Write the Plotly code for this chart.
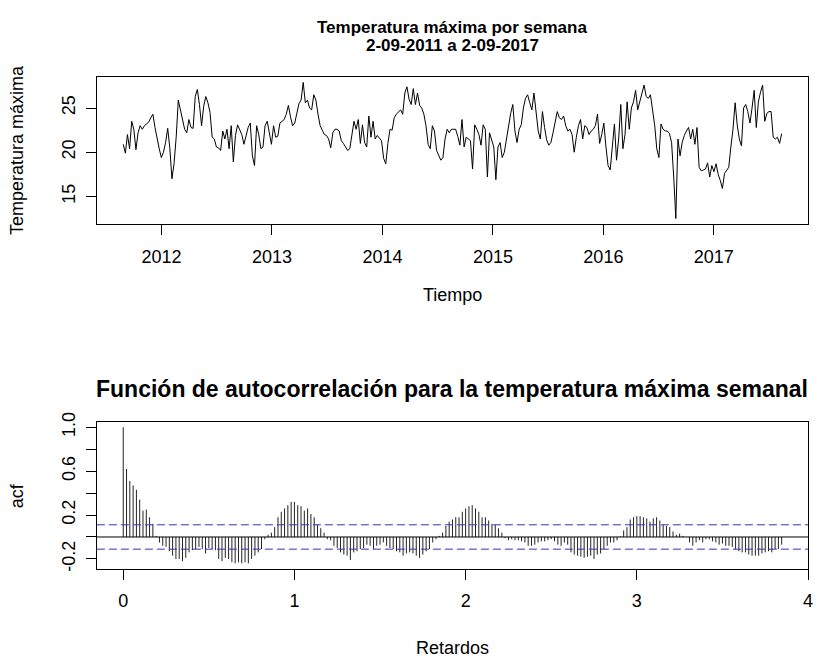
import numpy as np
import plotly.graph_objects as go

# ---------------- data ----------------
start_year = 2011 + 34 / 52          # first week of September 2011
freq = 365.25 / 7                    # weeks per year

temps = [
    20.9, 19.9, 22.0, 20.4, 23.5, 22.6, 20.3, 22.2, 23.0, 22.6,
    23.0, 23.2, 23.4, 23.9, 24.3, 22.8, 21.5, 20.4, 19.4, 20.0,
    21.1, 22.7, 20.5, 17.0, 18.7, 21.7, 25.9, 24.8, 23.5, 22.6,
    22.2, 23.7, 22.8, 22.7, 26.3, 27.1, 25.4, 23.0, 25.2, 26.3,
    25.6, 24.5, 21.7, 21.5, 20.6, 20.5, 20.2, 22.4, 21.5, 22.6,
    20.4, 23.0, 18.9, 21.9, 23.1, 22.6, 22.0, 20.9, 21.7, 22.8,
    23.3, 19.6, 18.5, 23.0, 22.0, 20.4, 20.6, 23.0, 23.5,
    22.0, 20.9, 23.0, 21.7, 21.8, 23.3, 23.5, 23.7, 24.3, 25.3,
    24.0, 23.0, 23.3, 24.6, 25.5, 25.9, 27.9, 25.6, 25.9, 25.0,
    24.8, 26.5, 25.9, 24.3, 23.0, 22.5, 22.0, 21.9, 21.5, 20.5,
    22.2, 22.6, 22.6, 22.4, 21.3, 21.0, 20.6, 20.2, 20.4, 22.0,
    23.5, 22.6, 23.7, 21.0, 23.1, 21.1, 20.6, 24.1, 21.7, 23.5,
    21.5, 21.9, 21.6, 21.3, 19.3, 18.7, 21.0, 22.6, 22.5, 23.9,
    24.3, 24.6, 24.8, 24.3, 26.7, 27.4, 26.0, 25.4, 27.2, 25.4,
    26.7, 25.3, 25.0, 24.3, 23.0, 20.9, 20.4, 23.0, 22.4, 20.2, 19.7, 19.1,
    19.4, 21.5, 22.6, 22.2, 22.6, 22.6, 22.6, 21.8, 20.8, 23.7,
    20.6, 21.7, 21.5, 21.3, 18.1, 23.1, 22.6, 22.0, 20.8, 23.1,
    22.6, 17.2, 22.2, 21.5, 20.6, 16.9, 20.6, 21.1, 19.4, 20.0,
    21.5, 22.6, 24.4, 25.4, 22.4, 21.1, 22.6, 23.1, 25.0, 26.1,
    26.5, 25.6, 24.8, 26.7, 24.6, 22.4, 21.5, 24.6, 22.8, 21.4,
    20.8, 21.1, 22.2, 23.5, 24.6, 23.9, 23.7, 24.1, 23.0, 22.4,
    22.6, 22.0, 20.0, 21.7, 23.0, 23.7, 21.5, 23.0, 22.8, 22.0,
    22.4, 22.6, 23.0, 24.3, 21.0, 22.0, 23.3, 20.6, 18.5, 18.0,
    20.9, 23.2, 19.1, 21.5, 25.4, 20.4, 22.0, 25.7, 22.6, 25.0,
    25.7, 27.0, 24.8, 25.7, 26.7, 27.6, 26.3, 26.1, 26.5, 24.8,
    23.1, 20.4, 19.4, 23.2, 22.6, 22.4, 22.4, 22.1, 21.1, 17.2,
    12.5, 21.5, 19.6, 21.1, 21.9, 22.4, 22.8, 21.5, 22.6, 20.9,
    22.8, 18.3, 17.9, 18.0, 18.1, 18.8, 17.2, 18.5, 17.8, 18.7,
    17.5, 16.8, 15.9, 17.6, 17.9, 18.3, 20.6, 22.6, 25.6, 23.1,
    21.5, 20.7, 25.0, 25.4, 24.6, 23.3, 25.0, 27.0, 22.8, 25.7,
    26.8, 27.6, 23.5, 24.4, 24.6, 24.6, 21.7, 21.5, 21.7, 21.0,
    22.1,
]

acf_vals = [
    1.0, 0.62, 0.51, 0.47, 0.43, 0.34, 0.24, 0.25, 0.18, 0.12, 0.01,
    -0.05, -0.08, -0.09, -0.13, -0.17, -0.20, -0.20, -0.22, -0.19, -0.14,
    -0.12, -0.11, -0.09, -0.11, -0.15, -0.10, -0.11, -0.12, -0.20, -0.22,
    -0.19, -0.20, -0.23, -0.24, -0.23, -0.24, -0.23, -0.24, -0.20, -0.17,
    -0.14, -0.11, -0.02, 0.02, 0.04, 0.09, 0.18, 0.23, 0.26, 0.29,
    0.32, 0.32, 0.29, 0.28, 0.24, 0.26, 0.21, 0.18, 0.11, 0.08,
    0.04, -0.02, -0.03, -0.08, -0.10, -0.14, -0.16, -0.17, -0.21, -0.14,
    -0.13, -0.11, -0.10, -0.07, -0.08, -0.11, -0.08, -0.07, -0.05, -0.08,
    -0.10, -0.11, -0.13, -0.14, -0.17, -0.15, -0.14, -0.15, -0.17, -0.19,
    -0.16, -0.13, -0.11, -0.05, -0.02, 0.01, 0.04, 0.10, 0.14, 0.16,
    0.18, 0.18, 0.23, 0.26, 0.28, 0.29, 0.26, 0.23, 0.18, 0.18,
    0.15, 0.12, 0.11, 0.08, 0.04, -0.01, -0.03, -0.02, -0.03, -0.03,
    -0.04, -0.05, -0.08, -0.08, -0.07, -0.05, -0.04, -0.04, -0.03, -0.02,
    -0.04, -0.07, -0.08, -0.05, -0.07, -0.14, -0.16, -0.17, -0.18, -0.19,
    -0.18, -0.17, -0.20, -0.16, -0.15, -0.11, -0.08, -0.05, -0.05, -0.03,
    0.005, 0.06, 0.09, 0.16, 0.18, 0.19, 0.19, 0.18, 0.17, 0.14,
    0.17, 0.18, 0.15, 0.11, 0.10, 0.09, 0.05, 0.02, 0.03, 0.01,
    0.00, -0.05, -0.08, -0.05, -0.03, -0.05, -0.02, -0.02, -0.04, -0.05,
    -0.07, -0.06, -0.08, -0.08, -0.09, -0.11, -0.13, -0.14, -0.14, -0.16,
    -0.17, -0.17, -0.17, -0.15, -0.14, -0.13, -0.14, -0.11, -0.11, -0.07,
]

year_ticks = [2012, 2013, 2014, 2015, 2016, 2017]
temp_ticks = [15, 20, 25]
lag_ticks = [0, 1, 2, 3, 4]
acf_ticks = [-0.2, 0.0, 0.2, 0.4, 0.6, 0.8, 1.0]
acf_ticktext = ["-0.2", "", "0.2", "", "0.6", "", "1.0"]

# ---------------- derived ----------------
n = len(temps)
t = [start_year + i / freq for i in range(n)]
lags = [k / 52 for k in range(len(acf_vals))]
ci = 1.96 / np.sqrt(n)


def r_range(lo, hi):
    pad = 0.04 * (hi - lo)
    return [lo - pad, hi + pad + 1e-6]


x1_range = r_range(min(t), max(t))
y1_range = r_range(min(temps), max(temps))
x2_range = r_range(0, max(lags))
y2_range = r_range(min(min(acf_vals), -ci), max(max(acf_vals), ci))

bx, by = [], []
for lg, v in zip(lags, acf_vals):
    bx += [lg, lg, None]
    by += [0, v, None]

W, H = 817, 661
FONT = "Liberation Sans, Arial, Helvetica, sans-serif"


def px(x):
    return x / W


def py(y):
    return 1 - y / H


fig = go.Figure()
fig.add_trace(go.Scatter(x=t, y=temps, mode="lines",
                         line=dict(color="black", width=1),
                         xaxis="x", yaxis="y", hoverinfo="x+y"))
fig.add_trace(go.Scatter(x=bx, y=by, mode="lines",
                         line=dict(color="#222222", width=1),
                         xaxis="x2", yaxis="y2", hoverinfo="skip"))

axis_common = dict(showline=True, linecolor="black", linewidth=1, mirror=True,
                   ticks="outside", ticklen=10, tickcolor="black", tickwidth=1,
                   showgrid=False, zeroline=False, ticklabeloverflow="allow",
                   tickfont=dict(family=FONT, size=18, color="black"))

L, R = 97.5, 813
fig.update_layout(
    width=W, height=H, margin=dict(l=0, r=0, t=0, b=0),
    paper_bgcolor="white", plot_bgcolor="white", showlegend=False,
    xaxis=dict(domain=[px(L), px(R)], range=x1_range, tickvals=year_ticks,
               anchor="y", ticklabelstandoff=6, **axis_common),
    yaxis=dict(domain=[py(218.3), py(68.3)], range=y1_range, tickvals=temp_ticks,
               tickangle=-90, anchor="x", ticklabelstandoff=4, **axis_common),
    xaxis2=dict(domain=[px(L), px(R)], range=x2_range, tickvals=lag_ticks,
                anchor="y2", ticklabelstandoff=6, **axis_common),
    yaxis2=dict(domain=[py(570), py(420)], range=y2_range, tickvals=acf_ticks,
                ticktext=acf_ticktext, tickangle=-90, anchor="x2",
                ticklabelstandoff=4, **axis_common),
)

# reference lines of the acf panel
fig.add_shape(type="line", xref="x2 domain", yref="y2", x0=0, x1=1, y0=0, y1=0,
              line=dict(color="black", width=1))
for c in (ci, -ci):
    fig.add_shape(type="line", xref="x2 domain", yref="y2", x0=0, x1=1, y0=c, y1=c,
                  line=dict(color="#3434b0", width=1, dash="8px,4px"))


def label(text, x, y, size, bold=False, angle=0):
    fig.add_annotation(text=f"<b>{text}</b>" if bold else text,
                       x=px(x), y=py(y), xref="paper", yref="paper",
                       xanchor="center", yanchor="middle", showarrow=False,
                       textangle=angle, font=dict(family=FONT, size=size, color="black"))


cx = (L + R) / 2
label("Temperatura máxima por semana", cx, 18, 17, bold=True)
label("2-09-2011 a 2-09-2017", cx, 36, 17, bold=True)
label("Tiempo", cx, 291, 18)
label("Temperatura máxima", 17, 143, 18, angle=-90)
label("Función de autocorrelación para la temperatura máxima semanal", cx, 387, 23, bold=True)
label("Retardos", cx, 651, 18)
label("acf", 17, 495, 18, angle=-90)

fig.write_html("out.html")
